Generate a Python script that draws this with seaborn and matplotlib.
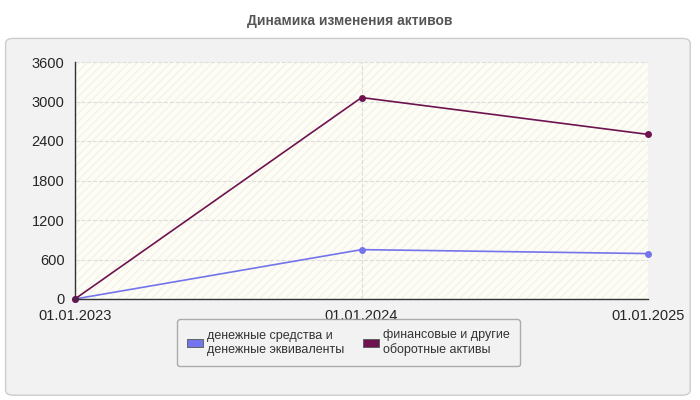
import numpy as np
import pandas as pd
import matplotlib
matplotlib.use("Agg")
import matplotlib.pyplot as plt
import seaborn as sns
from matplotlib.patches import FancyBboxPatch

dates = ["01.01.2023", "01.01.2024", "01.01.2025"]
cash = [0, 750, 690]
other = [0, 3060, 2500]
names = ["денежные средства и\nденежные эквиваленты", "финансовые и другие\nоборотные активы"]
colors = ["#7474ec", "#6e1250"]
yticks = [0, 600, 1200, 1800, 2400, 3000, 3600]

sns.set_style("white")
plt.rcParams['font.family'] = ['Liberation Sans', 'DejaVu Sans']

fig = plt.figure(figsize=(7, 4), dpi=100)
fig.patch.set_facecolor("white")
panel = FancyBboxPatch((0.008, 0.012), 0.978, 0.892, boxstyle="round,pad=0,rounding_size=0.012",
                       transform=fig.transFigure, facecolor="#f2f2f2", edgecolor="#cccccc", lw=1,
                       zorder=-10)
fig.patches.append(panel)
fig.text(0.5, 0.947, "Динамика изменения активов", ha="center", va="center",
         fontsize=10, fontweight="bold", color="#555555")

ax = fig.add_axes([0.107, 0.2525, 0.819, 0.5925])
ax.set_zorder(5)
ax.set_facecolor("#fdfdf6")
ax.add_patch(plt.Rectangle((0, 0), 1, 1, transform=ax.transAxes, facecolor="none",
                           hatch="////", edgecolor="#f3f3ea", lw=0, zorder=0))

df = pd.DataFrame({"x": [0, 1, 2] * 2, "y": cash + other,
                   "s": [names[0]] * 3 + [names[1]] * 3})
sns.lineplot(data=df, x="x", y="y", hue="s", palette=colors, marker="o", markersize=5,
             markeredgewidth=0, lw=1.2, ax=ax, legend=False, clip_on=False)

ax.set_xlim(0, 2)
ax.set_ylim(0, 3600)
ax.set_xticks([0, 1, 2])
ax.set_xticklabels(dates, fontsize=10.5)
ax.set_yticks(yticks)
ax.set_yticklabels([str(v) for v in yticks], fontsize=10.5)
ax.tick_params(axis="both", length=4, color="#333333", direction="out")
ax.grid(True, color="#dddddd", ls="--", lw=0.8)
ax.set_xlabel("")
ax.set_ylabel("тыс.", fontsize=10, fontweight="bold", color="#888888", labelpad=20)
for s in ["top", "right"]:
    ax.spines[s].set_visible(False)
for s in ["left", "bottom"]:
    ax.spines[s].set_color("#333333")
    ax.spines[s].set_linewidth(1)

handles = [plt.Rectangle((0, 0), 1, 1, facecolor=c, edgecolor="#555555", lw=0.6) for c in colors]
leg = fig.legend(handles, names, loc="center", bbox_to_anchor=(0.498, 0.143), ncol=2,
                 fontsize=9, frameon=True, handlelength=1.3, handleheight=0.6,
                 handletextpad=0.3, columnspacing=1.5, fancybox=True, borderpad=0.8)
leg.get_frame().set_edgecolor("#999999")
leg.get_frame().set_facecolor("#f2f2f2")
for t in leg.get_texts():
    t.set_color("#333333")

fig.savefig("out.png", dpi=100)
